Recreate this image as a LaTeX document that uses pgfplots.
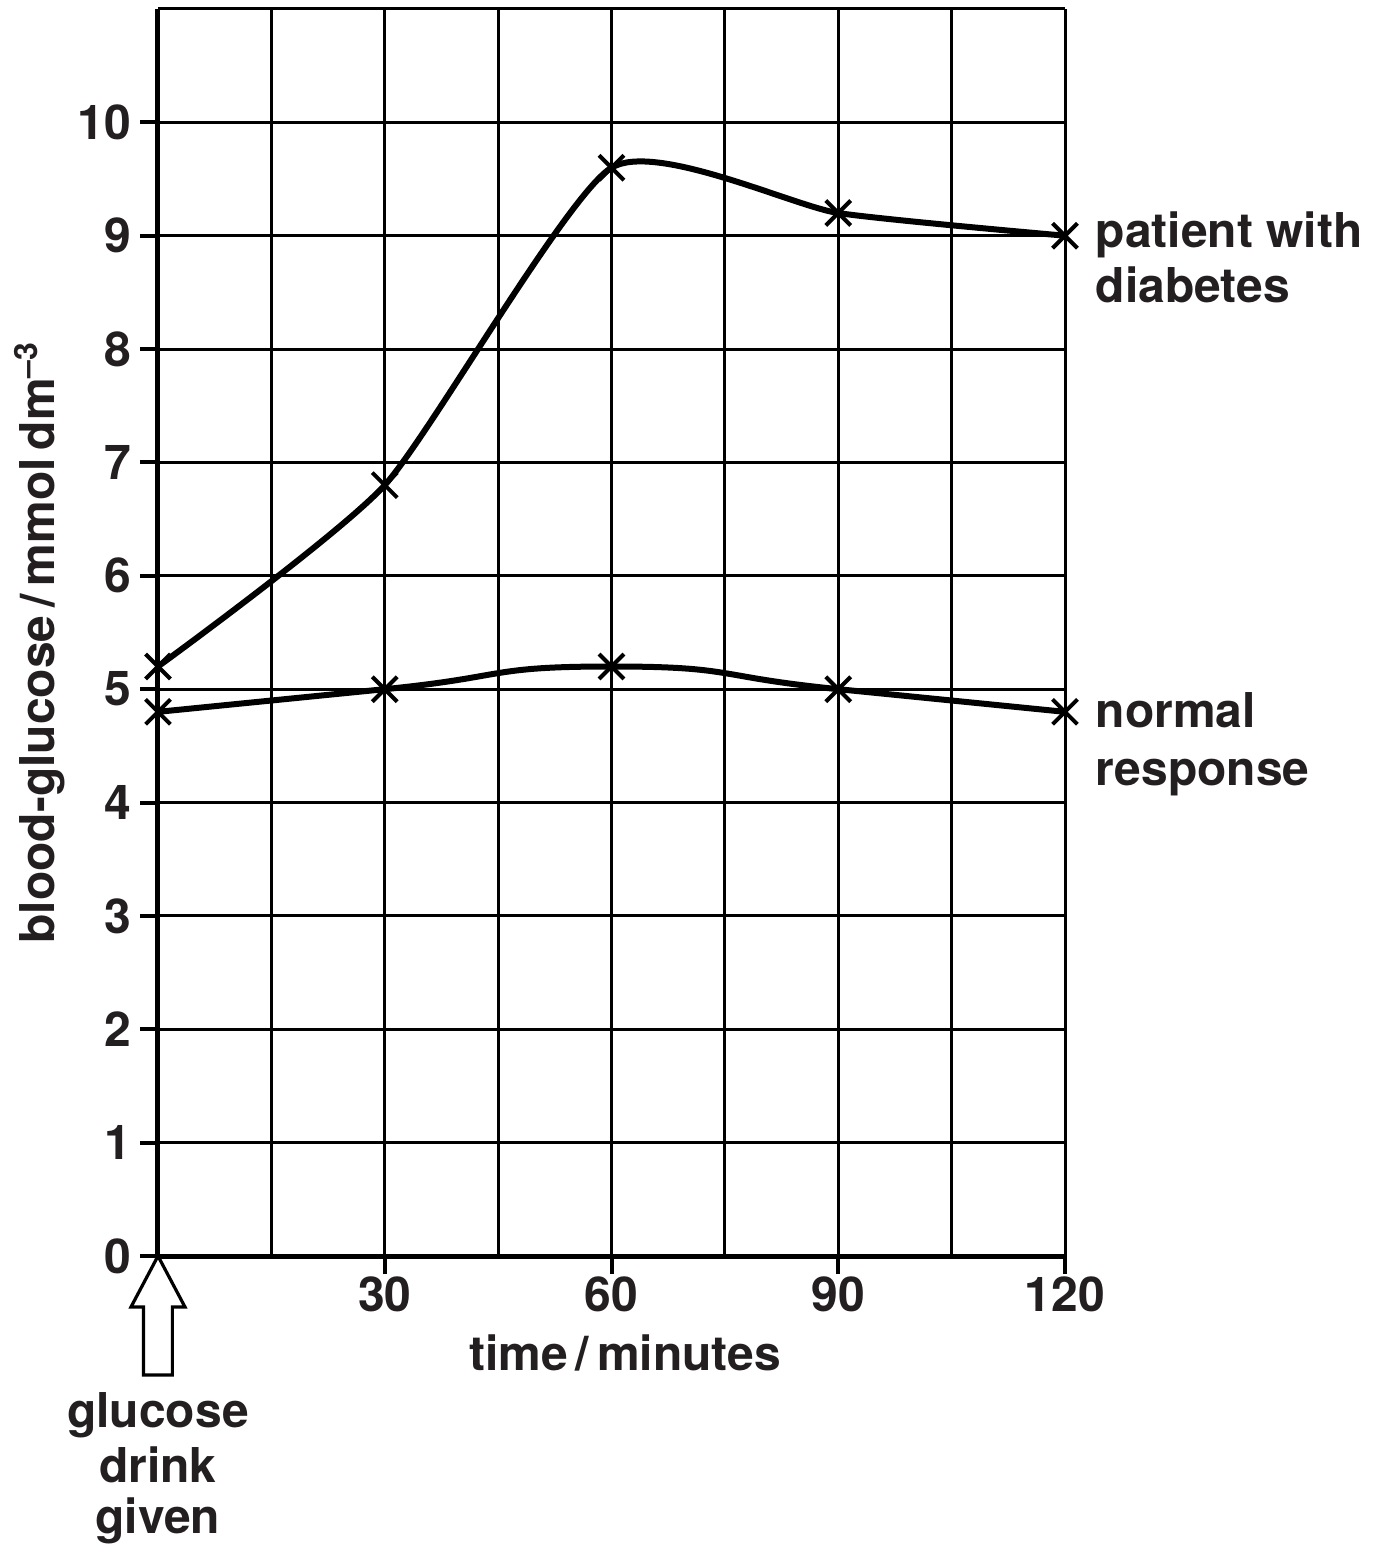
\documentclass[border=0pt]{standalone}
\usepackage{fontspec}
\setmainfont{TeX Gyre Heros}
\usepackage{pgfplots}
\pgfplotsset{compat=1.18}
\definecolor{ink}{HTML}{231F20}

\begin{document}
\fontsize{12}{13.75}\selectfont\bfseries
\begin{tikzpicture}
\useasboundingbox (-39.5pt,-74pt) rectangle (305.5pt,314pt);
\begin{axis}[
  at={(0,0)}, anchor=origin,
  scale only axis, width=226.75pt, height=311.75pt,
  xmin=0, xmax=120, ymin=0, ymax=11,
  axis lines=left, axis line style={-, line width=1.25pt},
  xtick={30,60,90,120}, minor xtick={15,45,75,105},
  ytick={0,1,...,10}, minor ytick={11},
  grid=both, grid style={line width=0.75pt, black},
  major tick length=4.5pt, minor tick length=0pt, tick align=outside,
  tick style={line width=1pt, black},
  ticklabel style={text=ink},
  xticklabel style={yshift=3.5pt},
  yticklabel style={xshift=2pt},
  /pgf/number format/assume math mode=true,
  xlabel={time\,/\,minutes},
  xlabel style={at={(axis description cs:0.515,0)}, anchor=base, yshift=-28.5pt, text=ink},
  ylabel={blood-glucose\,/\,mmol\,dm\textsuperscript{–3}},
  ylabel style={at={(axis description cs:-0.1136,0.4924)}, anchor=base, text=ink},
  clip=false,
]
% patient with diabetes
\addplot[black, line width=1.5pt, mark=x, mark size=4.4pt,
  mark options={line width=1pt}, /tikz/smooth, /tikz/tension=0.35]
  coordinates {(0,5.2) (30,6.8) (60,9.6) (90,9.2) (120,9.0)};
% normal response
\addplot[black, line width=1.5pt, mark=x, mark size=4.4pt,
  mark options={line width=1pt}, /tikz/smooth, /tikz/tension=1]
  coordinates {(0,4.8) (30,5.0) (60,5.2) (90,5.0) (120,4.8)};

\node[anchor=base west, inner sep=0pt, text=ink] at ([xshift=7.5pt,yshift=-2.9pt]axis cs:120,9) {patient with};
\node[anchor=base west, inner sep=0pt, text=ink] at ([xshift=7.5pt,yshift=-16.6pt]axis cs:120,9) {diabetes};
\node[anchor=base west, inner sep=0pt, text=ink] at ([xshift=7.5pt,yshift=-4pt]axis cs:120,4.8) {normal};
\node[anchor=base west, inner sep=0pt, text=ink] at ([xshift=7.5pt,yshift=-18.3pt]axis cs:120,4.8) {response};

% glucose drink arrow
\draw[line width=0.8pt, fill=white]
  (axis cs:0,0) -- ([xshift=6.75pt,yshift=-12.75pt]axis cs:0,0)
  -- ([xshift=3.6pt,yshift=-12.75pt]axis cs:0,0)
  -- ([xshift=3.6pt,yshift=-29.75pt]axis cs:0,0)
  -- ([xshift=-3.6pt,yshift=-29.75pt]axis cs:0,0)
  -- ([xshift=-3.6pt,yshift=-12.75pt]axis cs:0,0)
  -- ([xshift=-6.75pt,yshift=-12.75pt]axis cs:0,0) -- cycle;
\node[anchor=base, inner sep=0pt, text=ink] at ([yshift=-42.75pt]axis cs:0,0) {glucose};
\node[anchor=base, inner sep=0pt, text=ink] at ([yshift=-56.5pt]axis cs:0,0) {drink};
\node[anchor=base, inner sep=0pt, text=ink] at ([yshift=-69.25pt]axis cs:0,0) {given};
\end{axis}
\end{tikzpicture}
\end{document}
